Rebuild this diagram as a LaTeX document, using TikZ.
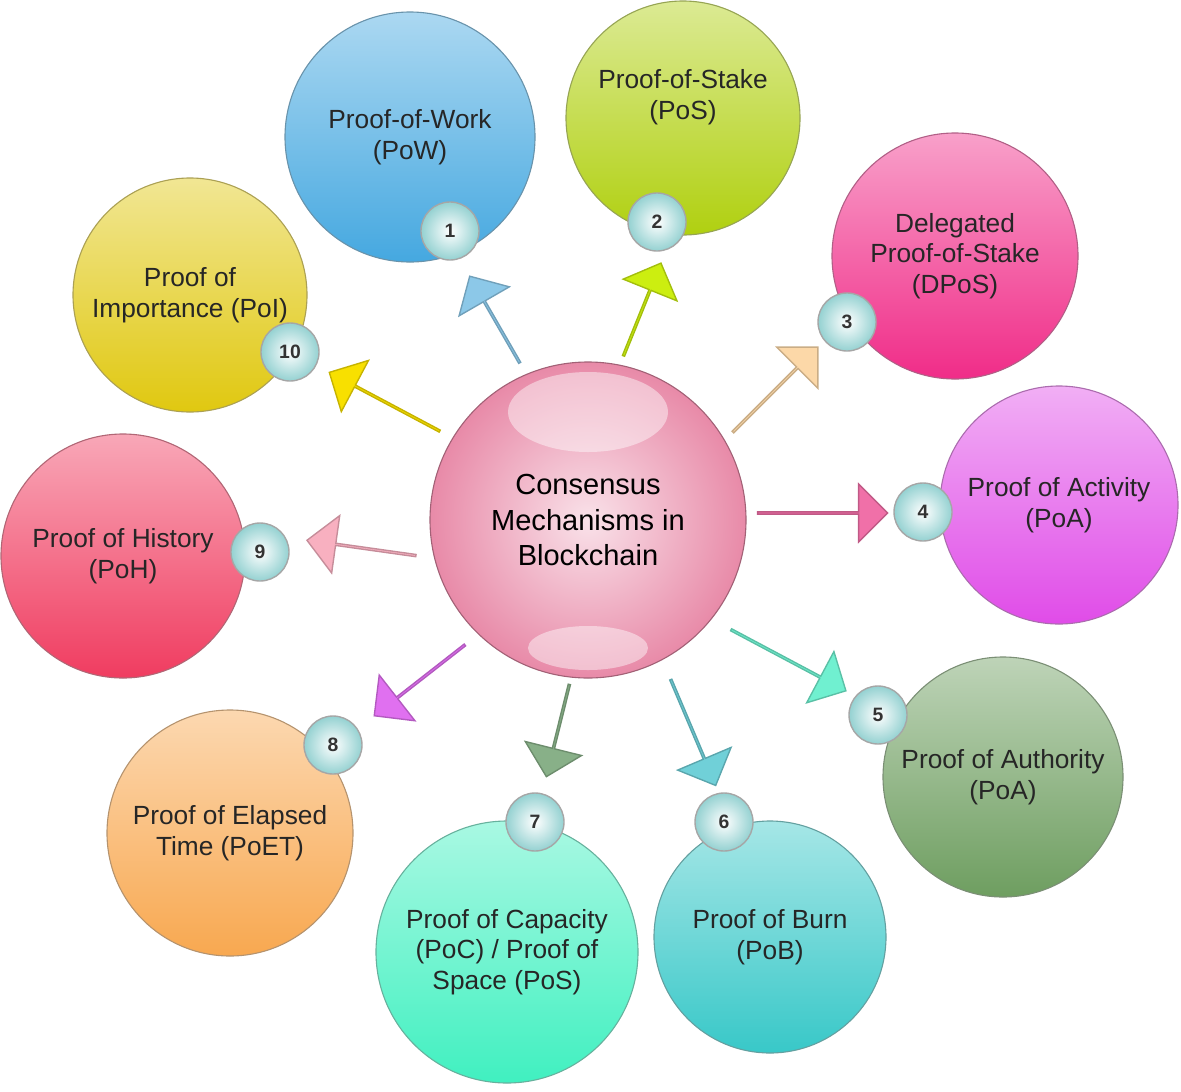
\documentclass[tikz,border=0pt]{standalone}
\usepackage{fontspec}
\setmainfont{Liberation Sans}
\usetikzlibrary{shapes.arrows}
\begin{document}
\begin{tikzpicture}[x=0.0254cm,y=-0.0254cm,
 bub/.style={circle,draw=#1!60!black!70,line width=0.8pt,top color=#1!45!white,bottom color=#1,align=center,font=\fontsize{19}{22}\selectfont,text=black!85},
 badge/.style={circle,draw=gray!70,line width=1pt,inner color=white,outer color=cyan!40!gray!60,minimum size=58*0.0254cm,font=\bfseries\fontsize{14}{16}\selectfont,text=black!80},
 arr/.style={single arrow,draw=#1!80!black,fill=#1,line width=1pt,minimum width=58*0.0254cm,single arrow head extend=17*0.0254cm,inner sep=0pt}]
\useasboundingbox (0,0) rectangle (1181,1091);
\definecolor{c1}{HTML}{45A8E0}\definecolor{c2}{HTML}{B0D010}\definecolor{c3}{HTML}{F02C88}
\definecolor{c4}{HTML}{E04CE8}\definecolor{c5}{HTML}{6E9E60}\definecolor{c6}{HTML}{38C8C8}
\definecolor{c7}{HTML}{40F0C0}\definecolor{c8}{HTML}{F8A850}\definecolor{c9}{HTML}{F03C60}
\definecolor{c10}{HTML}{E0C810}\definecolor{cc}{HTML}{E88AA8}
\definecolor{a1}{HTML}{8CC8E8}\definecolor{a2}{HTML}{CCEE10}\definecolor{a3}{HTML}{FCD8A8}
\definecolor{a4}{HTML}{F070A8}\definecolor{a5}{HTML}{70F0D0}\definecolor{a6}{HTML}{70D0D8}
\definecolor{a7}{HTML}{88B088}\definecolor{a8}{HTML}{E070F0}\definecolor{a9}{HTML}{F8B0C0}
\definecolor{a10}{HTML}{F8E000}
\node[bub=c1,minimum size=250*0.0254cm] (n1) at (410,137) {Proof-of-Work\\(PoW)};
\node[bub=c2,minimum size=234*0.0254cm] (n2) at (683,118) {Proof-of-Stake\\(PoS)\\[12pt]};
\node[bub=c3,minimum size=246*0.0254cm] (n3) at (955,256) {Delegated\\Proof-of-Stake\\(DPoS)};
\node[bub=c4,minimum size=238*0.0254cm] (n4) at (1059,505) {Proof of Activity\\(PoA)};
\node[bub=c5,minimum size=240*0.0254cm] (n5) at (1003,777) {Proof of Authority\\(PoA)};
\node[bub=c6,minimum size=232*0.0254cm] (n6) at (770,937) {Proof of Burn\\(PoB)};
\node[bub=c7,minimum size=262*0.0254cm] (n7) at (507,952) {Proof of Capacity\\(PoC) / Proof of\\Space (PoS)};
\node[bub=c8,minimum size=246*0.0254cm] (n8) at (230,833) {Proof of Elapsed\\Time (PoET)};
\node[bub=c9,minimum size=244*0.0254cm] (n9) at (123,556) {Proof of History\\(PoH)};
\node[bub=c10,minimum size=234*0.0254cm] (n10) at (190,295) {Proof of\\Importance (PoI)};
\node[circle,draw=cc!70!black,line width=0.8pt,inner color=cc!25!white,outer color=cc,minimum size=316*0.0254cm,align=center,font=\fontsize{21}{26}\selectfont] (c) at (588,520) {Consensus\\Mechanisms in\\Blockchain};
\fill[white,opacity=0.45] (588,412) ellipse (80 and 40);
\fill[white,opacity=0.45] (588,648) ellipse (60 and 22);
\node[badge] (b1) at (450,231) {1};
\node[badge] (b2) at (657,222) {2};
\node[badge] (b3) at (847,322) {3};
\node[badge] (b4) at (923,512) {4};
\node[badge] (b5) at (878,715) {5};
\node[badge] (b6) at (724,822) {6};
\node[badge] (b7) at (535,822) {7};
\node[badge] (b8) at (333,745) {8};
\node[badge] (b9) at (260,552) {9};
\node[badge] (b10) at (290,352) {10};
\foreach \i/\x/\y/\ang/\len in {1/495/320/120/100,2/642/310/68/100,3/775/390/45/120,4/822/513/0/130,5/788/660/-28/130,6/693/732/-67/115,7/558/730/-104/95,8/420/680/-142/115,9/362/548/172/110,10/385/402/152/125}
 \node[arr=a\i,rotate=\ang,minimum height=\len*0.0254cm] (ar\i) at (\x,\y) {};
\end{tikzpicture}
\end{document}
